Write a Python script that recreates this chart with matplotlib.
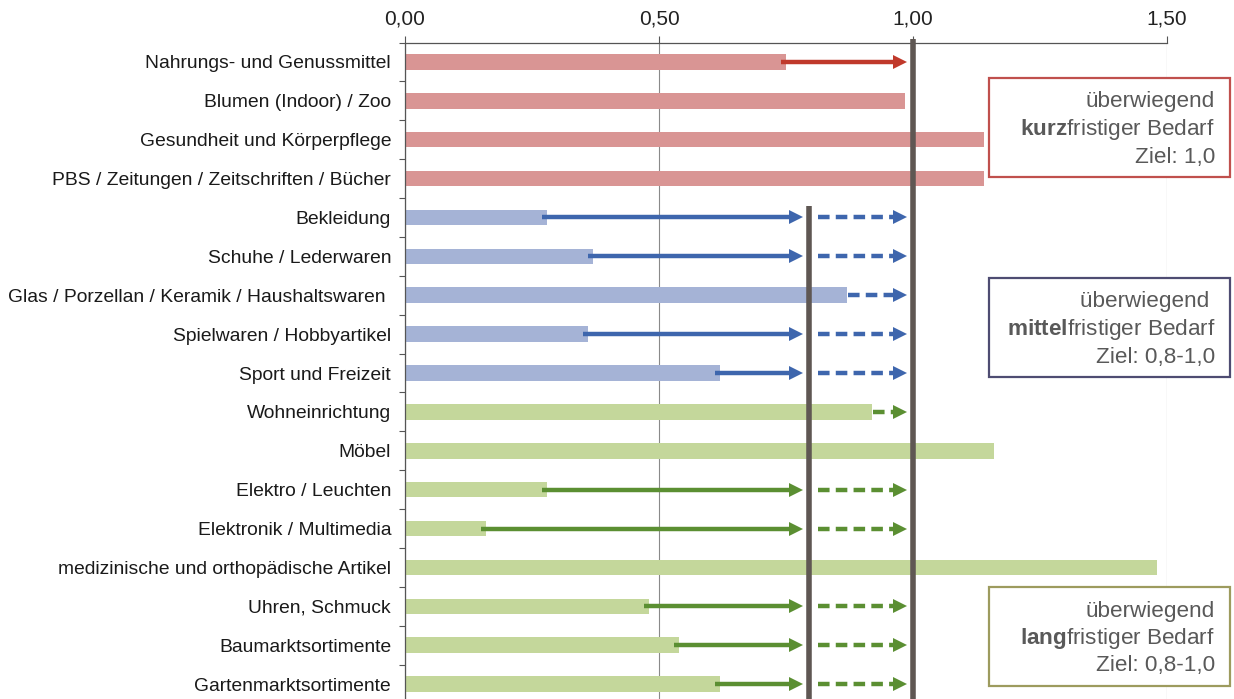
import matplotlib.pyplot as plt
from matplotlib.patches import Rectangle

plt.rcParams['font.family'] = ['Liberation Sans', 'DejaVu Sans']
plt.rcParams['mathtext.fontset'] = 'custom'
plt.rcParams['mathtext.rm'] = 'Liberation Sans'
plt.rcParams['mathtext.bf'] = 'Liberation Sans:bold'

# data
categories = ['Nahrungs- und Genussmittel', 'Blumen (Indoor) / Zoo',
              'Gesundheit und Körperpflege',
              'PBS / Zeitungen / Zeitschriften / Bücher',
              'Bekleidung', 'Schuhe / Lederwaren',
              'Glas / Porzellan / Keramik / Haushaltswaren ',
              'Spielwaren / Hobbyartikel', 'Sport und Freizeit',
              'Wohneinrichtung', 'Möbel', 'Elektro / Leuchten',
              'Elektronik / Multimedia',
              'medizinische und orthopädische Artikel', 'Uhren, Schmuck',
              'Baumarktsortimente', 'Gartenmarktsortimente']
values = [0.75, 0.985, 1.14, 1.14,
          0.28, 0.37, 0.87, 0.36, 0.62,
          0.92, 1.16, 0.28, 0.16, 1.48, 0.48, 0.54, 0.62]
groups = ['kurz'] * 4 + ['mittel'] * 5 + ['lang'] * 8
target_low = {'kurz': 1.0, 'mittel': 0.795, 'lang': 0.795}
target_high = 1.0
xticks = [0.0, 0.5, 1.0, 1.5]
xticklabels = ['0,00', '0,50', '1,00', '1,50']

bar_col = {'kurz': '#d99594', 'mittel': '#a5b3d6', 'lang': '#c4d79b'}
arr_col = {'kurz': '#c0392b', 'mittel': '#3e66ad', 'lang': '#5b8f32'}
line_col = '#5f5753'

W, H = 1234, 699
fig = plt.figure(figsize=(W / 100, H / 100), dpi=100)
ax = fig.add_axes([405 / W, -4.5 / H, 762 / W, 661 / H])

y = list(range(len(categories)))
for i in y:
    ax.barh(i, values[i], height=0.4, color=bar_col[groups[i]], zorder=2)

ax.set_xlim(0, 1.5)
ax.set_ylim(16.5, -0.5)

# arrows (only where the value is clearly below the target)
px = 1.5 / 762          # data units per pixel
hl = 14 * px            # head length
lw = 3.2
tip_hi = target_high - 6 * px
for i in y:
    g = groups[i]
    c = arr_col[g]
    v = values[i]
    lo = target_low[g]
    if v < lo - 0.03:
        tip = lo - 6 * px if lo < target_high else tip_hi
        ax.plot([v - 0.01, tip - hl + 1 * px], [i, i], color=c, lw=lw,
                solid_capstyle='butt', zorder=3)
        ax.plot(tip - hl / 2, i, marker='>', ms=10, mew=0, color=c, zorder=3)
    if lo < target_high and v < target_high - 0.03:
        start = lo + 9 * px if v < lo else v + 1 * px
        ax.plot([start, tip_hi - hl], [i, i], color=c, lw=lw,
                dashes=(2.6, 1.4), dash_capstyle='butt', zorder=3)
        ax.plot(tip_hi - hl / 2, i, marker='>', ms=10, mew=0, color=c, zorder=3)

# target lines
ax.plot([target_high, target_high], [-0.58, 16.6], color=line_col, lw=4,
        zorder=4, clip_on=False, solid_capstyle='butt')
ax.plot([0.795, 0.795], [3.7, 16.6], color=line_col, lw=4, zorder=4,
        solid_capstyle='butt')

# axes styling
ax.xaxis.tick_top()
ax.set_xticks(xticks)
ax.set_xticklabels(xticklabels, fontsize=15, color='#222222')
ax.tick_params(axis='x', length=5, width=0.8, color='#555555', pad=5)
ax.grid(axis='x', color='#8a8a8a', lw=0.8, zorder=0)
ax.set_axisbelow(True)
ax.set_yticks(y)
ax.set_yticklabels(categories, fontsize=13.9, color='#1a1a1a')
ax.tick_params(axis='y', which='major', length=0, pad=10)
ax.set_yticks([k + 0.5 for k in range(-1, 17)], minor=True)
ax.tick_params(axis='y', which='minor', length=4, width=0.8, color='#555555')
for s in ['right', 'bottom']:
    ax.spines[s].set_visible(False)
for s in ['left', 'top']:
    ax.spines[s].set_color('#555555')
    ax.spines[s].set_linewidth(0.9)

# group boxes
boxes = [
    (78, 177, '#c0504d', ['überwiegend', r'$\mathbf{kurz}$fristiger Bedarf', 'Ziel: 1,0']),
    (278, 377, '#4e4c72', ['überwiegend ', r'$\mathbf{mittel}$fristiger Bedarf', 'Ziel: 0,8-1,0']),
    (587, 686, '#9d9b5e', ['überwiegend', r'$\mathbf{lang}$fristiger Bedarf', 'Ziel: 0,8-1,0']),
]
for top, bot, ec, lines in boxes:
    fig.patches.append(Rectangle((989 / W, 1 - bot / H), (1230 - 989) / W,
                                 (bot - top) / H, transform=fig.transFigure,
                                 facecolor='white', edgecolor=ec, lw=1.6,
                                 zorder=5))
    for k, t in enumerate(lines):
        fig.text(1215 / W, 1 - (top + 24 + k * 27.5) / H, t, ha='right',
                 va='center', fontsize=16.2, color='#595959', zorder=6)

fig.savefig('out.png', dpi=100)
